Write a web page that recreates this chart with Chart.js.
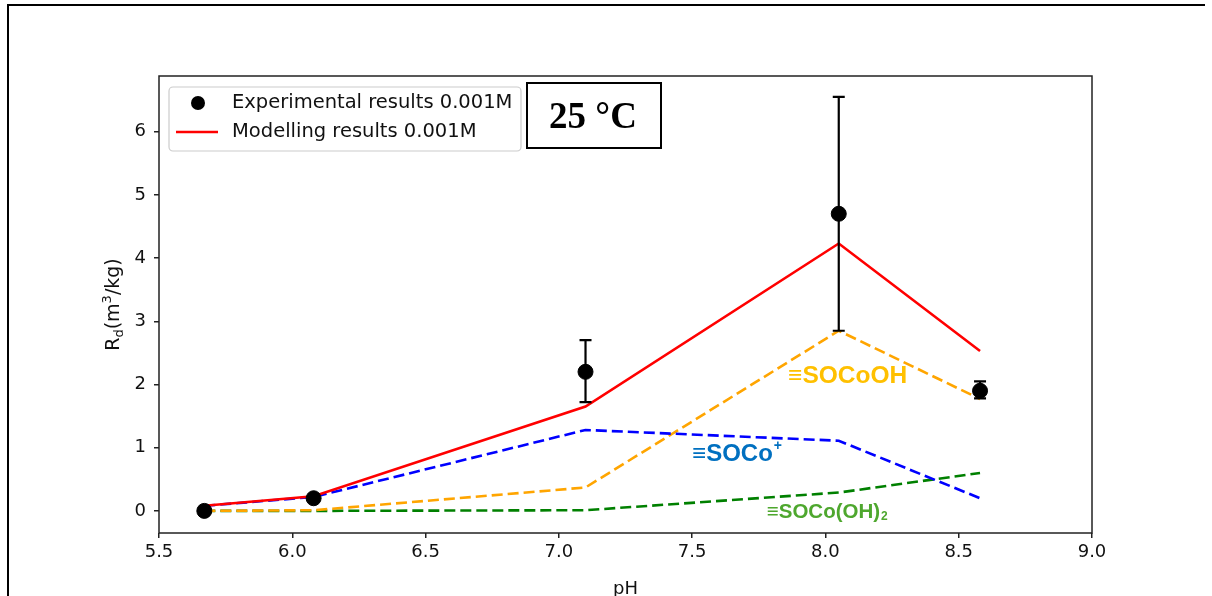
<!DOCTYPE html>
<html lang="en">
<head>
  <meta charset="UTF-8">
  <title>Rd vs pH at 25 °C</title>
  <script src="https://cdn.jsdelivr.net/npm/chart.js"></script>
  <style>
    body { margin: 0; background: #fff; }
    .frame { position: absolute; left: 7px; top: 4px; width: 1196px; height: 620px;
             border-left: 2.5px solid #000; border-top: 2.5px solid #000; }
    canvas { position: absolute; left: 0; top: 0; }
  </style>
</head>
<body>
  <div class="frame"></div>
  <canvas id="rdChart" width="1212" height="596"></canvas>

  <script>
// pH of each sample
const phValues = [5.67, 6.08, 7.10, 8.05, 8.58];
// experimental Rd and error bar ends
const expRd = [0, 0.2, 2.2, 4.7, 1.9];
const expErrLow = [0, 0.2, 1.72, 2.85, 1.78];
const expErrHigh = [0, 0.2, 2.7, 6.55, 2.05];
// model
const modelRd = [0.08, 0.23, 1.65, 4.23, 2.53];
// surface species
const socoPlus = [0.08, 0.22, 1.28, 1.11, 0.2];
const socoOH = [0, 0.01, 0.37, 2.85, 1.77];
const socoOH2 = [0, 0, 0.01, 0.29, 0.6];

const xTicks = [5.5, 6.0, 6.5, 7.0, 7.5, 8.0, 8.5, 9.0];
const yTicks = [0, 1, 2, 3, 4, 5, 6];

const pts = ys => phValues.map((x, i) => ({ x: x, y: ys[i] }));
const FONT = '"DejaVu Sans", sans-serif';

function lineSet(label, ys, color, dashed, order) {
    return {
        label: label,
        data: pts(ys),
        showLine: true,
        borderColor: color,
        borderWidth: 2.6,
        borderDash: dashed ? [11, 5] : [],
        pointRadius: 0,
        fill: false,
        order: order
    };
}

const extras = {
    id: 'extras',
    afterDatasetsDraw(chart) {
        const ctx = chart.ctx, xs = chart.scales.x, ys = chart.scales.y;
        ctx.save();
        ctx.strokeStyle = '#000';
        ctx.lineWidth = 2.2;
        phValues.forEach((p, i) => {
            if (expErrHigh[i] === expErrLow[i]) return;
            const x = xs.getPixelForValue(p);
            const y1 = ys.getPixelForValue(expErrLow[i]);
            const y2 = ys.getPixelForValue(expErrHigh[i]);
            ctx.beginPath();
            ctx.moveTo(x, y1); ctx.lineTo(x, y2);
            ctx.moveTo(x - 6, y1); ctx.lineTo(x + 6, y1);
            ctx.moveTo(x - 6, y2); ctx.lineTo(x + 6, y2);
            ctx.stroke();
        });
        ctx.restore();
    },
    afterDraw(chart) {
        const ctx = chart.ctx, a = chart.chartArea;
        const xs = chart.scales.x, ys = chart.scales.y;
        ctx.save();

        // axes frame
        ctx.strokeStyle = '#222';
        ctx.lineWidth = 1.5;
        ctx.strokeRect(a.left, a.top, a.right - a.left, a.bottom - a.top);

        // axis titles
        ctx.fillStyle = '#111';
        ctx.font = '18px ' + FONT;
        ctx.textAlign = 'center';
        ctx.textBaseline = 'alphabetic';
        ctx.fillText('pH', (a.left + a.right) / 2, 594);

        ctx.save();
        ctx.translate(119, (a.top + a.bottom) / 2);
        ctx.rotate(-Math.PI / 2);
        const parts = [['R', 19, 0], ['d', 13, 4], ['(m', 19, 0], ['3', 13, -8], ['/kg)', 19, 0]];
        let w = 0;
        parts.forEach(p => { ctx.font = p[1] + 'px ' + FONT; w += ctx.measureText(p[0]).width; });
        let cx = -w / 2;
        ctx.textAlign = 'left';
        parts.forEach(p => {
            ctx.font = p[1] + 'px ' + FONT;
            ctx.fillText(p[0], cx, p[2]);
            cx += ctx.measureText(p[0]).width;
        });
        ctx.restore();

        // legend
        ctx.fillStyle = 'rgba(255,255,255,0.85)';
        ctx.strokeStyle = '#cccccc';
        ctx.lineWidth = 1.2;
        ctx.beginPath();
        ctx.roundRect(169, 87, 352, 64, 4);
        ctx.fill(); ctx.stroke();
        ctx.fillStyle = '#000';
        ctx.beginPath();
        ctx.arc(198, 103, 7, 0, Math.PI * 2);
        ctx.fill();
        ctx.strokeStyle = 'red';
        ctx.lineWidth = 2.6;
        ctx.beginPath();
        ctx.moveTo(176, 132); ctx.lineTo(218, 132);
        ctx.stroke();
        ctx.font = '19.5px ' + FONT;
        ctx.textAlign = 'left';
        ctx.textBaseline = 'middle';
        ctx.fillStyle = '#111';
        ctx.fillText('Experimental results 0.001M', 232, 103);
        ctx.fillText('Modelling results 0.001M', 232, 132);

        // temperature box
        ctx.fillStyle = '#fff';
        ctx.fillRect(527, 83, 134, 65);
        ctx.strokeStyle = '#000';
        ctx.lineWidth = 2;
        ctx.strokeRect(527, 83, 134, 65);
        ctx.fillStyle = '#000';
        ctx.font = 'bold 37px "Liberation Serif", "Times New Roman", serif';
        ctx.textAlign = 'center';
        ctx.textBaseline = 'middle';
        ctx.fillText('25 °C', 593, 118);

        // species labels (left edge, middle) in data units
        const label = (x, y, size, color, main, extra, shift) => {
            const px = xs.getPixelForValue(x), py = ys.getPixelForValue(y);
            ctx.fillStyle = color;
            ctx.textAlign = 'left';
            ctx.textBaseline = 'middle';
            ctx.font = 'bold ' + size + 'px "Liberation Sans", Arial, sans-serif';
            ctx.fillText(main, px, py);
            if (extra) {
                const mw = ctx.measureText(main).width;
                ctx.font = 'bold ' + Math.round(size * 0.6) + 'px "Liberation Sans", Arial, sans-serif';
                ctx.fillText(extra, px + mw + 1, py + shift);
            }
        };
        label(7.86, 2.13, 24.5, '#ffc000', '≡SOCoOH', '', 0);
        label(7.5, 0.9, 24, '#0070c0', '≡SOCo', '+', -8);
        label(7.78, -0.02, 20.5, '#4ea72e', '≡SOCo(OH)', '2', 5);

        ctx.restore();
    }
};

new Chart(document.getElementById('rdChart'), {
    type: 'scatter',
    data: {
        datasets: [
            {
                label: 'Experimental results 0.001M',
                data: pts(expRd),
                backgroundColor: '#000',
                borderColor: '#000',
                pointRadius: 7.5,
                order: 0
            },
            lineSet('Modelling results 0.001M', modelRd, 'red', false, 1),
            lineSet('≡SOCo+', socoPlus, 'blue', true, 2),
            lineSet('≡SOCoOH', socoOH, 'orange', true, 3),
            lineSet('≡SOCo(OH)2', socoOH2, 'green', true, 4)
        ]
    },
    options: {
        responsive: false,
        animation: false,
        devicePixelRatio: 1,
        layout: { padding: { top: 76, right: 120, bottom: 0, left: 0 } },
        scales: {
            x: {
                type: 'linear',
                min: 5.5,
                max: 9.0,
                afterBuildTicks: s => { s.ticks = xTicks.map(v => ({ value: v })); },
                afterFit: s => { s.height = 63; },
                border: { display: false },
                grid: { drawOnChartArea: false, drawTicks: true, tickLength: 5, color: '#222', lineWidth: 1.5 },
                ticks: { color: '#111', font: { family: FONT, size: 18 }, padding: 4, callback: v => v.toFixed(1) }
            },
            y: {
                type: 'linear',
                min: -0.35,
                max: 6.88,
                afterBuildTicks: s => { s.ticks = yTicks.map(v => ({ value: v })); },
                afterFit: s => { s.width = 159; },
                border: { display: false },
                grid: { drawOnChartArea: false, drawTicks: true, tickLength: 5, color: '#222', lineWidth: 1.5 },
                ticks: { color: '#111', font: { family: FONT, size: 18 }, padding: 8, callback: v => String(v) }
            }
        },
        plugins: {
            legend: { display: false },
            tooltip: { enabled: false }
        }
    },
    plugins: [extras]
});
  </script>
</body>
</html>
